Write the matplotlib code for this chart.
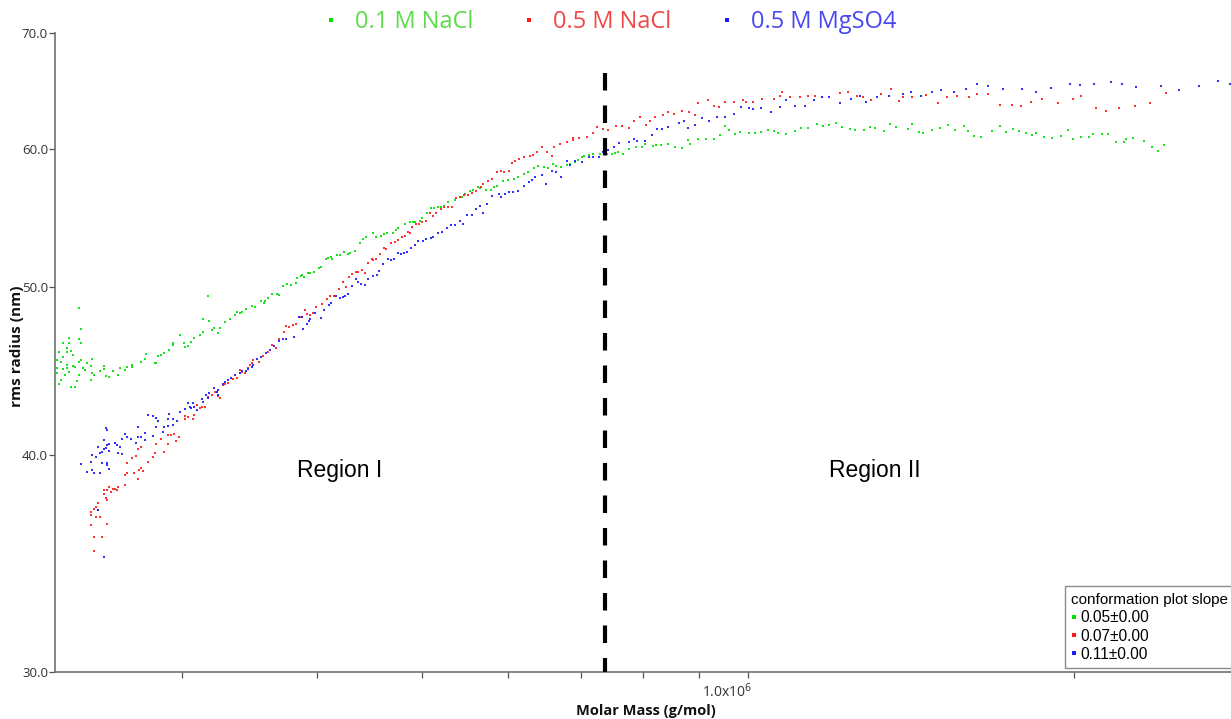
import matplotlib
matplotlib.use("Agg")
import matplotlib.pyplot as plt
from matplotlib.lines import Line2D
from matplotlib.ticker import FixedLocator, NullFormatter, NullLocator
import matplotlib.transforms as mtransforms
import numpy as np

# ---------------- data (molar mass in 1e5 g/mol, rms radius in nm) ----------------
green_mass_e5 = [
    2.30, 2.30, 2.31, 2.30, 2.31, 2.32, 2.32, 2.33, 2.33, 2.33, 2.34, 2.35, 2.35, 2.35, 2.35,
    2.36, 2.36, 2.36, 2.37, 2.37, 2.38, 2.38, 2.39, 2.39, 2.40, 2.41, 2.41, 2.41, 2.41, 2.42,
    2.42, 2.42, 2.43, 2.44, 2.45, 2.47, 2.47, 2.48, 2.48, 2.49, 2.52, 2.54, 2.54, 2.55, 2.57,
    2.59, 2.62, 2.63, 2.66, 2.67, 2.70, 2.70, 2.75, 2.77, 2.78, 2.83, 2.84, 2.85, 2.87, 2.89,
    2.92, 2.94, 2.94, 2.99, 3.01, 3.02, 3.04, 3.06, 3.08, 3.12, 3.14, 3.14, 3.17, 3.18, 3.20,
    3.21, 3.24, 3.25, 3.29, 3.32, 3.36, 3.37, 3.39, 3.41, 3.44, 3.48, 3.50,
    3.55, 3.57, 3.58, 3.60, 3.63, 3.67, 3.69, 3.72, 3.75, 3.78, 3.82, 3.83, 3.86, 3.87, 3.89,
    3.92, 3.94, 3.97, 4.01, 4.03, 4.07, 4.09, 4.12, 4.13, 4.17, 4.20, 4.23, 4.27, 4.29, 4.33,
    4.38, 4.41, 4.44, 4.50, 4.53, 4.58, 4.61, 4.64, 4.70, 4.73, 4.75, 4.82, 4.87, 4.90, 4.92,
    4.98, 5.00, 5.05, 5.09, 5.13, 5.17, 5.20, 5.24, 5.28, 5.36, 5.42, 5.44, 5.48, 5.53, 5.57,
    5.63, 5.65, 5.73, 5.78, 5.82, 5.86, 5.94, 6.00, 6.08, 6.13, 6.21, 6.26, 6.34, 6.39, 6.48,
    6.53, 6.60, 6.65, 6.72, 6.80, 6.85, 6.91, 6.96, 7.02, 7.05, 7.13, 7.19, 7.30, 7.37, 7.41,
    7.48, 7.53, 7.58, 7.66, 7.76, 7.88, 7.98, 8.03, 8.17, 8.22, 8.31, 8.43, 8.56, 8.69, 8.80,
    8.84, 8.99, 9.13, 9.30, 9.42, 9.52, 9.60, 9.71, 9.83, 10.02, 10.15, 10.28, 10.43, 10.57,
    10.66, 10.84, 11.05, 11.19, 11.36, 11.58, 11.71, 11.86, 12.06, 12.21, 12.40, 12.55, 12.80,
    12.96, 13.10, 13.35, 13.52, 13.70, 14.03, 14.17, 14.36, 14.51, 14.76, 15.04, 15.30, 15.53,
    15.80, 15.96, 16.17, 16.41, 16.80, 17.09, 17.31, 17.57, 17.76, 18.03, 18.26, 18.45, 18.73,
    19.05, 19.42, 19.75, 19.96, 20.30, 20.61, 20.79, 21.19, 21.46, 21.87, 22.20, 22.34, 22.63,
    23.21, 23.61, 23.91, 24.22,
]
green_radius = [
    44.90, 45.37, 45.86, 44.60, 43.95, 45.25, 44.18, 45.55, 44.83, 46.40, 44.47, 45.86, 44.90, 46.10, 45.07,
    46.71, 46.40, 44.65, 45.92, 43.77, 45.00, 45.67, 43.77, 44.95, 44.12, 46.65, 48.61, 45.25, 44.47, 47.27,
    46.40, 45.37, 44.90, 44.77, 45.19, 45.00, 44.18, 44.60, 45.43, 44.47, 44.71, 45.00, 44.83, 44.41, 44.35,
    44.71, 44.47, 44.90, 44.77, 44.95, 45.07, 44.95, 45.25, 45.43, 45.74, 45.19, 45.19, 45.61, 45.67, 45.80,
    45.98, 46.40, 46.28, 46.90, 46.40, 46.16, 46.22, 46.46, 46.71, 46.90, 47.09, 47.90, 49.39, 47.78, 47.21,
    47.34, 47.02, 47.34, 47.71, 47.90, 48.16, 48.35, 48.29, 48.35, 48.54, 48.74, 48.67,
    49.07, 48.93, 49.07, 49.26, 49.52, 49.52, 49.45, 50.05, 50.18, 50.12, 50.25, 50.58, 50.72, 50.78, 50.65,
    50.92, 50.92, 50.98, 51.25, 51.32, 51.87, 51.94, 52.00, 51.87, 52.14, 52.14, 52.35, 52.21, 52.28, 52.42,
    52.98, 53.26, 53.40, 53.68, 53.40, 53.47, 53.61, 53.68, 53.68, 53.90, 54.04, 54.33, 54.47, 54.47, 54.47,
    54.54, 54.76, 55.13, 55.49, 55.49, 55.57, 55.57, 55.64, 55.94, 56.09, 56.31, 56.31, 56.54, 56.76, 56.84,
    57.07, 56.99, 56.84, 56.84, 57.07, 57.14, 57.52, 57.60, 57.68, 57.83, 58.06, 58.22, 58.52, 58.68, 58.60,
    58.52, 58.84, 58.68, 58.60, 58.76, 58.84, 59.00, 59.15, 59.38, 59.46, 59.54, 59.62, 59.62, 59.70, 59.62,
    59.62, 59.70, 59.78, 59.62, 60.02, 60.18, 60.18, 60.42, 60.26, 60.34, 60.34, 60.42, 60.18, 60.10, 60.74,
    60.42, 60.82, 60.82, 60.82, 61.15, 61.88, 61.55, 61.23, 61.39, 61.31, 61.31, 61.39, 61.55, 61.47,
    61.31, 61.23, 61.47, 61.71, 61.71, 62.04, 61.88, 61.96, 62.12, 61.80, 61.63, 61.55, 61.55,
    61.80, 61.71, 61.47, 62.04, 61.80, 61.63, 62.04, 61.39, 61.31, 61.55, 61.71, 61.96, 61.55,
    61.88, 61.47, 61.07, 60.99, 61.47, 61.88, 61.39, 61.63, 61.47, 61.31, 61.15, 61.31, 60.99,
    60.90, 61.07, 61.55, 60.82, 60.99, 60.99, 61.23, 61.23, 61.23, 60.58, 60.58, 60.82, 60.90,
    60.66, 60.18, 59.86, 60.34,
]

red_mass_e5 = [
    2.47, 2.47, 2.47, 2.49, 2.49, 2.49, 2.50, 2.50, 2.51, 2.51, 2.52, 2.53, 2.54, 2.54, 2.55,
    2.56, 2.56, 2.56, 2.57, 2.58, 2.59, 2.60, 2.61, 2.62, 2.66, 2.66, 2.67, 2.67, 2.70, 2.71,
    2.72, 2.73, 2.73, 2.74, 2.75, 2.75, 2.76, 2.79, 2.82, 2.83, 2.84, 2.87, 2.89, 2.91, 2.91,
    2.93, 2.95, 2.96, 2.98, 3.02, 3.02, 3.04, 3.07, 3.08, 3.10, 3.12, 3.13, 3.15, 3.17, 3.20,
    3.22, 3.24, 3.25, 3.27, 3.29, 3.31, 3.34, 3.37, 3.39, 3.41, 3.43, 3.45, 3.47, 3.48, 3.49,
    3.53, 3.56, 3.60, 3.63, 3.66, 3.69, 3.73, 3.74, 3.77, 3.80, 3.82, 3.86, 3.87, 3.90, 3.91,
    3.94, 3.96, 3.99, 4.04, 4.08, 4.11, 4.14, 4.19, 4.22, 4.25, 4.28, 4.31, 4.34, 4.36, 4.40,
    4.43, 4.45, 4.49, 4.50, 4.53, 4.57, 4.61, 4.63, 4.68, 4.72, 4.75, 4.79, 4.82, 4.85, 4.87,
    4.89, 4.93, 4.96, 5.00, 5.04, 5.08, 5.11, 5.15, 5.20, 5.24, 5.28, 5.33, 5.37, 5.42, 5.46,
    5.51, 5.56, 5.61, 5.66, 5.69, 5.75, 5.80, 5.86, 5.91, 5.95, 6.01, 6.05, 6.09, 6.14, 6.21,
    6.29, 6.33, 6.38, 6.45, 6.52, 6.59, 6.62, 6.70, 6.80, 6.89, 6.89, 6.98, 7.10, 7.19, 7.25,
    7.34, 7.42, 7.55, 7.65, 7.76, 7.85, 7.95, 8.05, 8.12, 8.20, 8.34, 8.43, 8.54, 8.69, 8.81,
    8.92, 8.99, 9.18, 9.30, 9.40, 9.52, 9.69, 9.88, 9.94, 10.09, 10.30, 10.55, 10.70, 10.75,
    10.93, 11.17, 11.36, 11.53, 11.70, 12.16, 12.37, 12.61, 12.77, 12.99, 13.26, 13.55, 13.76,
    13.88, 14.17, 14.60, 14.98, 15.27, 15.57, 16.00, 16.27, 16.65, 17.09, 17.50, 17.87, 18.22,
    18.65, 19.30, 19.92, 20.30, 20.92, 21.37, 21.97, 22.73, 23.51, 24.32,
]
red_radius = [
    36.44, 36.94, 37.09, 35.22, 37.24, 35.89, 36.85, 37.34, 37.54, 37.19, 36.85, 35.89, 38.00, 38.19, 37.78,
    36.51, 37.68, 38.19, 38.34, 38.09, 38.24, 38.24, 38.19, 38.34, 38.44, 38.95, 39.05, 39.58, 39.84, 39.05,
    39.95, 38.75, 40.32, 39.21, 39.31, 40.43, 39.16, 39.63, 39.90, 40.11, 40.59, 40.86, 40.16, 40.59, 41.08,
    41.08, 41.13, 40.75, 40.97, 42.13, 41.96, 42.07, 41.96, 42.18, 42.74, 42.57, 42.63, 42.63, 43.20, 43.32,
    43.49, 43.26, 43.14, 43.89, 43.95, 44.01, 44.24, 44.30, 44.77, 44.65, 44.60, 44.90, 45.07, 45.19, 45.37,
    45.25, 45.61, 45.86, 46.28, 46.10, 46.65, 47.09, 47.46, 47.40, 47.52, 47.59, 48.03, 48.03, 48.48, 48.22,
    48.16, 48.29, 48.67, 48.87, 49.20, 49.39, 49.39, 49.85, 50.32, 49.98, 50.65, 50.85, 50.98, 50.98, 51.12,
    50.92, 51.59, 51.87, 51.80, 51.87, 52.21, 52.63, 52.56, 52.98, 53.05, 53.19, 53.40, 53.47, 53.76, 53.68,
    54.11, 54.33, 54.33, 54.47, 54.54, 55.13, 54.91, 55.13, 55.42, 55.57, 55.57, 55.57, 56.24, 56.31, 56.46,
    56.46, 56.61, 56.76, 57.07, 57.30, 57.52, 57.68, 58.22, 58.29, 58.22, 58.29, 58.91, 59.07, 59.23, 59.38,
    59.46, 59.54, 59.78, 60.18, 59.78, 59.46, 60.18, 60.42, 60.58, 60.90, 60.74, 60.90, 60.99, 61.31, 61.80,
    61.63, 61.55, 61.88, 61.88, 61.71, 62.29, 62.62, 61.96, 62.29, 62.62, 62.79, 63.03, 62.87, 63.12, 63.03,
    62.79, 63.80, 64.05, 63.57, 63.49, 63.89, 63.89, 64.05, 63.89, 63.89, 64.13, 64.13, 64.39, 64.73,
    64.30, 64.30, 64.39, 64.39, 64.30, 64.64, 64.73, 64.39, 64.30, 64.05, 64.56, 64.98, 63.97,
    64.30, 64.30, 64.47, 63.80, 64.30, 64.39, 64.30, 64.56, 64.56, 63.64, 63.64, 63.57, 63.89,
    64.13, 63.80, 64.13, 64.39, 63.38, 63.12, 63.38, 63.57, 63.80, 64.64,
]

blue_mass_e5 = [
    2.42, 2.45, 2.47, 2.48, 2.48, 2.49, 2.50, 2.51, 2.51, 2.52, 2.52, 2.53, 2.53, 2.54, 2.54,
    2.54, 2.55, 2.55, 2.56, 2.56, 2.56, 2.56, 2.57, 2.57, 2.57, 2.60, 2.61, 2.62, 2.63, 2.64,
    2.64, 2.66, 2.67, 2.69, 2.72, 2.73, 2.73, 2.75, 2.77, 2.77, 2.79, 2.82, 2.82, 2.84, 2.85,
    2.84, 2.88, 2.89, 2.91, 2.91, 2.92, 2.94, 2.94, 2.97, 2.99, 3.02, 3.04, 3.05, 3.06, 3.07,
    3.08, 3.10, 3.13, 3.14, 3.16, 3.17, 3.18, 3.21, 3.23, 3.24, 3.24, 3.27, 3.29, 3.31, 3.33,
    3.36, 3.39, 3.41, 3.44, 3.45, 3.48, 3.49, 3.52, 3.55, 3.59, 3.62, 3.65, 3.69, 3.72, 3.74,
    3.81, 3.85, 3.87, 3.88, 3.91, 3.93, 3.94, 3.98, 4.03, 4.06, 4.10, 4.12, 4.16, 4.20, 4.22,
    4.24, 4.27, 4.31, 4.34, 4.36, 4.39, 4.43, 4.45, 4.50, 4.54, 4.56, 4.60, 4.65, 4.68, 4.71,
    4.75, 4.78, 4.81, 4.84, 4.88, 4.92, 4.95, 5.01, 5.04, 5.09, 5.12, 5.17, 5.21, 5.27, 5.31,
    5.36, 5.42, 5.45, 5.50, 5.56, 5.61, 5.65, 5.69, 5.74, 5.80, 5.88, 5.91, 5.96, 6.01, 6.06,
    6.13, 6.21, 6.27, 6.31, 6.36, 6.45, 6.50, 6.59, 6.64, 6.72, 6.80, 6.85, 6.92, 7.02, 7.13,
    7.19, 7.28, 7.34, 7.42, 7.52, 7.60, 7.76, 7.85, 7.90, 8.03, 8.15, 8.24, 8.32, 8.43, 8.63,
    8.73, 8.80, 8.93, 9.07, 9.20, 9.36, 9.52, 9.69, 9.85, 10.02, 10.09, 10.28, 10.50, 10.70,
    10.84, 11.05, 11.29, 11.50, 11.70, 11.88, 12.16, 12.45, 12.69, 12.85, 13.15, 13.49, 13.88,
    14.14, 14.42, 14.79, 15.07, 15.47, 15.90, 16.27, 16.65, 17.20, 17.91, 18.45, 19.01, 19.83,
    20.22, 20.83, 21.60, 22.11, 22.82, 24.02, 24.99, 26.04, 27.12, 27.82,
]
blue_radius = [
    39.53, 39.11, 39.63, 40.00, 39.21, 39.05, 39.90, 40.43, 37.19, 39.05, 40.11, 39.58, 40.16, 40.80, 34.94,
    40.32, 40.37, 41.46, 39.58, 39.47, 40.54, 41.35, 40.59, 39.26, 40.21, 40.64, 40.54, 40.11, 40.43, 40.86,
    40.05, 41.13, 40.97, 40.86, 40.64, 40.97, 41.52, 40.97, 41.19, 40.80, 42.18, 42.13, 41.02, 42.01, 41.85,
    41.52, 41.24, 41.52, 41.96, 41.57, 42.24, 41.63, 41.96, 41.85, 42.35, 42.52, 42.86, 42.63, 42.57, 42.86,
    42.63, 42.46, 43.09, 42.91, 43.32, 43.14, 43.43, 43.72, 43.49, 43.32, 43.60, 43.95, 44.07, 44.18, 44.30,
    44.47, 44.60, 44.71, 44.71, 44.83, 44.95, 45.07, 45.43, 45.55, 45.80, 45.98, 46.22, 46.53, 46.65, 46.65,
    46.78, 48.03, 48.03, 47.27, 47.59, 47.78, 47.90, 48.29, 47.97, 48.48, 48.80, 48.93, 49.39, 49.26, 49.32,
    49.39, 49.52, 50.05, 50.52, 50.32, 50.18, 50.12, 50.52, 50.72, 50.78, 51.05, 51.52, 51.87, 51.80, 51.87,
    52.28, 52.21, 52.28, 52.35, 52.63, 52.84, 53.12, 53.12, 53.26, 53.33, 53.40, 53.68, 53.76, 54.04, 54.26,
    54.26, 54.54, 54.33, 54.98, 54.98, 55.42, 55.64, 55.13, 55.79, 56.39, 56.54, 56.31, 56.54, 56.69, 56.69,
    56.76, 57.14, 57.45, 57.60, 57.83, 57.99, 57.30, 58.29, 58.22, 57.83, 59.07, 58.76, 59.07, 59.00, 59.38,
    59.38, 59.38, 59.78, 59.94, 60.18, 60.50, 60.58, 60.82, 60.66, 60.66, 61.15, 61.63, 61.63, 61.80, 62.12,
    62.29, 61.71, 61.96, 62.54, 62.29, 62.62, 62.62, 62.87, 63.49, 63.41, 63.33, 63.41, 63.08, 63.49,
    64.05, 63.57, 63.57, 64.05, 64.30, 64.30, 63.80, 64.13, 64.39, 63.89, 64.30, 64.39, 64.56,
    64.73, 64.39, 64.73, 64.90, 64.73, 64.98, 65.41, 65.24, 64.98, 64.98, 64.73, 65.07, 65.41,
    65.32, 65.41, 65.58, 65.41, 65.15, 65.24, 64.90, 65.24, 65.66, 65.41,
]

series_labels = ["0.1 M NaCl", "0.5 M NaCl", "0.5 M MgSO4"]
slope_labels = ["0.05\u00b10.00", "0.07\u00b10.00", "0.11\u00b10.00"]
slope_title = "conformation plot slope"
region_labels = ["Region I", "Region II"]
boundary_mass = 7.38e5
boundary_top = 66.4
y_ticks = [30, 40, 50, 60, 70]
x_minor_ticks = [3e5, 4e5, 5e5, 6e5, 7e5, 8e5, 9e5, 2e6]
x_major_tick = 1e6

# ---------------- styling ----------------
point_colors = ["#00e000", "#ff1a1a", "#1a1aff"]
text_colors = ["#5cdc4c", "#f04848", "#4848f0"]

fig = plt.figure(figsize=(12.31, 7.19), dpi=100)
ax = fig.add_axes([55 / 1231, 1 - 672 / 719, 1 - 55 / 1231, (672 - 33) / 719])

series = [
    (np.array(green_mass_e5) * 1e5, green_radius),
    (np.array(red_mass_e5) * 1e5, red_radius),
    (np.array(blue_mass_e5) * 1e5, blue_radius),
]
for (m, r), c in zip(series, point_colors):
    ax.scatter(m, r, s=3.6, marker="s", color=c, linewidths=0, alpha=0.9, zorder=3)

ax.plot([boundary_mass, boundary_mass], [boundary_top, 30], color="black",
        linewidth=3.0, linestyle=(0, (4.2, 3.6)), zorder=4, solid_capstyle="butt",
        dash_capstyle="butt")

ax.set_xscale("log")
ax.set_yscale("log")
ax.set_xlim(2.29e5, 2.79e6)
ax.set_ylim(30, 70)

ax.yaxis.set_major_locator(FixedLocator(y_ticks))
ax.yaxis.set_minor_locator(NullLocator())
ax.set_yticklabels([f"{v:.1f}" for v in y_ticks])
ax.xaxis.set_major_locator(FixedLocator([x_major_tick]))
ax.xaxis.set_minor_locator(FixedLocator(x_minor_ticks))
ax.xaxis.set_minor_formatter(NullFormatter())
ax.set_xticklabels([""])

for s in ["top", "right"]:
    ax.spines[s].set_visible(False)
for s in ["left", "bottom"]:
    ax.spines[s].set_color("#707070")
    ax.spines[s].set_linewidth(1.2)

ax.tick_params(axis="both", which="both", direction="out", color="#505050", width=0.9)
ax.tick_params(axis="y", which="major", length=4, labelsize=9.5, labelcolor="#333333", pad=1)
ax.tick_params(axis="x", which="both", length=4)
for lab in ax.get_yticklabels():
    lab.set_fontfamily("Open Sans")

# x major tick label 1.0x10^6
offset = mtransforms.ScaledTranslation(4 / 100, 0, fig.dpi_scale_trans)
ax.text(x_major_tick, -0.017, r"1.0x10$^{6}$", transform=ax.get_xaxis_transform() + offset,
        ha="right", va="top", fontsize=10, color="#333333", family="Open Sans")

fig.text(0.525, 1 - 711 / 719, "Molar Mass (g/mol)", ha="center", va="center", fontsize=10.5,
         fontweight="bold", family="Open Sans", color="#111111")
fig.text(0.014, 1 - 346 / 719, "rms radius (nm)", ha="center", va="center", rotation=90,
         fontsize=11, fontweight="bold", family="Open Sans", color="#111111")

# region annotations
ax.text(0.242, 0.316, region_labels[0], transform=ax.transAxes, ha="center", va="center",
        fontsize=16.5, family="Liberation Sans", color="black")
ax.text(0.697, 0.316, region_labels[1], transform=ax.transAxes, ha="center", va="center",
        fontsize=16.5, family="Liberation Sans", color="black")

# top legend
top_handles = [Line2D([], [], linestyle="none", marker="s", markersize=2.2, color=c,
                      markeredgewidth=0) for c in point_colors]
fig.legend(top_handles, series_labels, loc="center", bbox_to_anchor=(0.495, 0.969), ncol=3,
           frameon=False, handlelength=0.8, handletextpad=0.62, columnspacing=1.95,
           labelcolor=text_colors, prop={"family": "Open Sans", "size": 17})

# slope legend
slope_handles = [Line2D([], [], linestyle="none", marker="s", markersize=2.6, color=c,
                        markeredgewidth=0) for c in point_colors]
leg = ax.legend(slope_handles, slope_labels, title=slope_title, loc="lower left",
                bbox_to_anchor=(0.859, 0.006), borderaxespad=0, frameon=True, fancybox=False,
                handlelength=0.3, handletextpad=0.3, labelspacing=0.22, borderpad=0.4,
                prop={"family": "Liberation Sans", "size": 11.2},
                title_fontproperties={"family": "Liberation Sans", "size": 11})
leg._legend_box.align = "left"
leg.get_frame().set_edgecolor("#707070")
leg.get_frame().set_linewidth(1.0)

fig.savefig("out.png", dpi=100)
